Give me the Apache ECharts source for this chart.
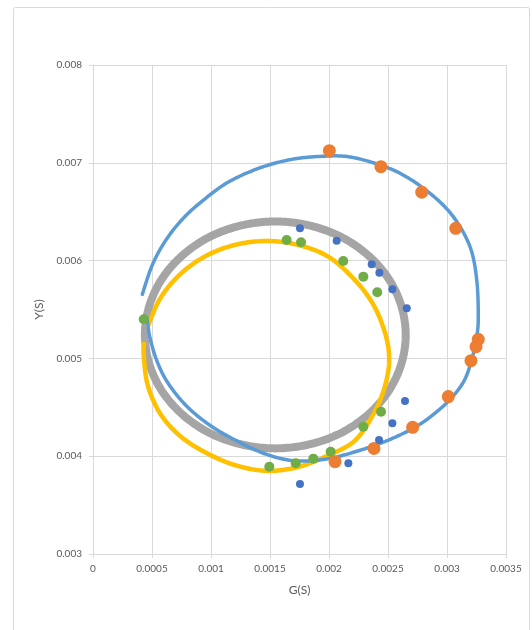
<!DOCTYPE html>
<html>
<head>
<meta charset="utf-8">
<script src="https://cdn.jsdelivr.net/npm/echarts@6/dist/echarts.min.js"></script>
<style>
html,body{margin:0;padding:0;background:#fff;}
#chart{width:532px;height:630px;}
</style>
</head>
<body>
<div id="chart"></div>
<script>
// Axis ticks
const xTicks = [0, 0.0005, 0.001, 0.0015, 0.002, 0.0025, 0.003, 0.0035];
const yTicks = [0.003, 0.004, 0.005, 0.006, 0.007, 0.008];

// Fitted curves [G, Y]
const blueCurve = [
  [0.000418,0.005655],[0.000492,0.005924],[0.000576,0.006129],[0.000686,0.006323],
  [0.000814,0.006492],[0.000958,0.00664],[0.001119,0.006783],[0.001314,0.006901],
  [0.001517,0.006988],[0.001729,0.007044],[0.001941,0.007066],[0.002136,0.007066],
  [0.002347,0.007011],[0.002602,0.006893],[0.002856,0.006688],[0.003053,0.006449],
  [0.003195,0.006142],[0.003252,0.005802],[0.003265,0.005426],[0.003252,0.005222],
  [0.003209,0.004984],[0.003144,0.004769],[0.003034,0.00459],[0.002915,0.004457],
  [0.00278,0.004334],[0.002619,0.004227],[0.002432,0.00413],[0.002229,0.004048],
  [0.002025,0.003982],[0.001814,0.003951],[0.001653,0.003961],[0.0015,0.004007],
  [0.001347,0.004079],[0.001203,0.004166],[0.001059,0.004263],[0.000924,0.004375],
  [0.000797,0.004508],[0.000686,0.004662],[0.000593,0.004835],[0.000525,0.00503],
  [0.000479,0.005234],[0.000458,0.005413]
];
const grayCurve = [
  [0.00044,0.00524],[0.000478,0.00554],[0.000588,0.00582],[0.000764,0.00606],
  [0.000992,0.006245],[0.001259,0.00636],[0.001545,0.0064],[0.001831,0.00636],
  [0.002098,0.006245],[0.002326,0.00606],[0.002502,0.00582],[0.002612,0.00554],
  [0.00265,0.00524],[0.002612,0.00494],[0.002502,0.00466],[0.002326,0.00442],
  [0.002098,0.004235],[0.001831,0.00412],[0.001545,0.00408],[0.001259,0.00412],
  [0.000992,0.004235],[0.000764,0.00442],[0.000588,0.00466],[0.000478,0.00494],
  [0.00044,0.00524]
];
const yellowCurve = [
  [0.000465,0.005329],[0.000569,0.005613],[0.000735,0.005856],[0.00095,0.006043],
  [0.001201,0.00616],[0.00147,0.0062],[0.001739,0.00616],[0.00199,0.006043],
  [0.002205,0.00582],[0.002371,0.00556],[0.002475,0.00526],[0.00251,0.00499],
  [0.002475,0.004721],[0.002385,0.00445],[0.00222,0.00416],[0.00199,0.004007],
  [0.001739,0.00389],[0.00147,0.00385],[0.001201,0.00391],[0.00095,0.00404],
  [0.000735,0.00421],[0.000569,0.004437],[0.000465,0.004721],[0.00043,0.005025],
  [0.000433,0.00515]
];

// Measured points [G, Y]
const orangePoints = [
  [0.002003,0.007124],[0.00244,0.00696],[0.002786,0.0067],[0.003074,0.00633],
  [0.003265,0.005195],[0.003246,0.00512],[0.003203,0.004977],[0.003011,0.00461],
  [0.002709,0.004295],[0.002381,0.00408],[0.002051,0.003944]
];
const bluePoints = [
  [0.001754,0.00633],[0.002065,0.006204],[0.002362,0.005962],[0.002427,0.005876],
  [0.002537,0.005706],[0.002659,0.005512],[0.002644,0.004564],[0.002537,0.004336],
  [0.002424,0.004166],[0.002164,0.003927],[0.001754,0.003716]
];
const greenPoints = [
  [0.001641,0.00621],[0.001763,0.006187],[0.002121,0.005996],[0.002291,0.005836],
  [0.002409,0.005676],[0.002441,0.004455],[0.002291,0.004302],[0.002014,0.004046],
  [0.001867,0.003975],[0.001718,0.003927],[0.001494,0.003893],[0.00043,0.0054]
];

const labelColor = '#595959';
const gridColor = '#d9d9d9';
const fontFam = 'Lato, "Open Sans", sans-serif';

// Smooth curve through the data points, positioned by the chart's own axes (api.coord)
function curveSeries(points, color, width, z) {
  return {
    type: 'custom', coordinateSystem: 'cartesian2d', silent: true, z: z,
    data: [points[0]],
    renderItem: function (params, api) {
      const p = points.map(function (d) { return api.coord(d); });
      const n = p.length;
      const closed = points[0][0] === points[n - 1][0] && points[0][1] === points[n - 1][1];
      const m = n - 1;
      const get = function (i) {
        if (closed) return p[((i % m) + m) % m];
        return p[Math.max(0, Math.min(n - 1, i))];
      };
      const out = [p[0].slice()];
      const steps = 14;
      for (let i = 0; i < n - 1; i++) {
        const p0 = get(i - 1), p1 = get(i), p2 = get(i + 1), p3 = get(i + 2);
        const c1 = [p1[0] + (p2[0] - p0[0]) / 6, p1[1] + (p2[1] - p0[1]) / 6];
        const c2 = [p2[0] - (p3[0] - p1[0]) / 6, p2[1] - (p3[1] - p1[1]) / 6];
        for (let s = 1; s <= steps; s++) {
          const t = s / steps, u = 1 - t;
          out.push([
            u*u*u*p1[0] + 3*u*u*t*c1[0] + 3*u*t*t*c2[0] + t*t*t*p2[0],
            u*u*u*p1[1] + 3*u*u*t*c1[1] + 3*u*t*t*c2[1] + t*t*t*p2[1]
          ]);
        }
      }
      return {
        type: 'polyline',
        shape: {points: out},
        style: {stroke: color, lineWidth: width, fill: null, lineCap: 'round', lineJoin: 'round'}
      };
    }
  };
}

const chart = echarts.init(document.getElementById('chart'), null, {renderer: 'canvas'});
chart.setOption({
  backgroundColor: '#fff',
  animation: false,
  graphic: [{
    type: 'rect', z: -10,
    shape: {x: 13.5, y: 7.5, width: 516, height: 640, r: 2},
    style: {fill: '#fff', stroke: '#d9d9d9', lineWidth: 1}
  }],
  grid: {left: 93, right: 26, top: 65, bottom: 76, containLabel: false},
  xAxis: {
    type: 'value', min: xTicks[0], max: xTicks[xTicks.length - 1], interval: 0.0005,
    name: 'G(S)', nameLocation: 'middle', nameGap: 30,
    nameTextStyle: {color: labelColor, fontSize: 12, fontFamily: fontFam},
    axisLine: {show: true, lineStyle: {color: gridColor}},
    axisTick: {show: true, length: 4, lineStyle: {color: gridColor}},
    axisLabel: {color: labelColor, fontSize: 10, fontFamily: fontFam, margin: 10,
      formatter: v => { const t = xTicks.find(a => Math.abs(a - v) < 1e-9); return String(t !== undefined ? t : v); }},
    splitLine: {show: true, lineStyle: {color: gridColor}}
  },
  yAxis: {
    type: 'value', min: yTicks[0], max: yTicks[yTicks.length - 1], interval: 0.001,
    name: 'Y(S)', nameLocation: 'middle', nameGap: 46, nameRotate: 90,
    nameTextStyle: {color: labelColor, fontSize: 12, fontFamily: fontFam},
    axisLine: {show: true, lineStyle: {color: gridColor}},
    axisTick: {show: true, length: 4, lineStyle: {color: gridColor}},
    axisLabel: {color: labelColor, fontSize: 10, fontFamily: fontFam, margin: 11,
      formatter: v => { const t = yTicks.find(a => Math.abs(a - v) < 1e-9); return String(t !== undefined ? t : v); }},
    splitLine: {show: true, lineStyle: {color: gridColor}}
  },
  series: [
    curveSeries(grayCurve, '#A5A5A5', 8, 2),
    curveSeries(yellowCurve, '#FFC000', 4.5, 3),
    curveSeries(blueCurve, '#5B9BD5', 3.5, 4),
    {type: 'scatter', data: orangePoints, symbolSize: 13,
      itemStyle: {color: '#ED7D31', opacity: 1}, z: 5},
    {type: 'scatter', data: bluePoints, symbolSize: 8,
      itemStyle: {color: '#4472C4', opacity: 1}, z: 5},
    {type: 'scatter', data: greenPoints, symbolSize: 10,
      itemStyle: {color: '#70AD47', opacity: 1}, z: 5}
  ]
});
</script>
</body>
</html>
